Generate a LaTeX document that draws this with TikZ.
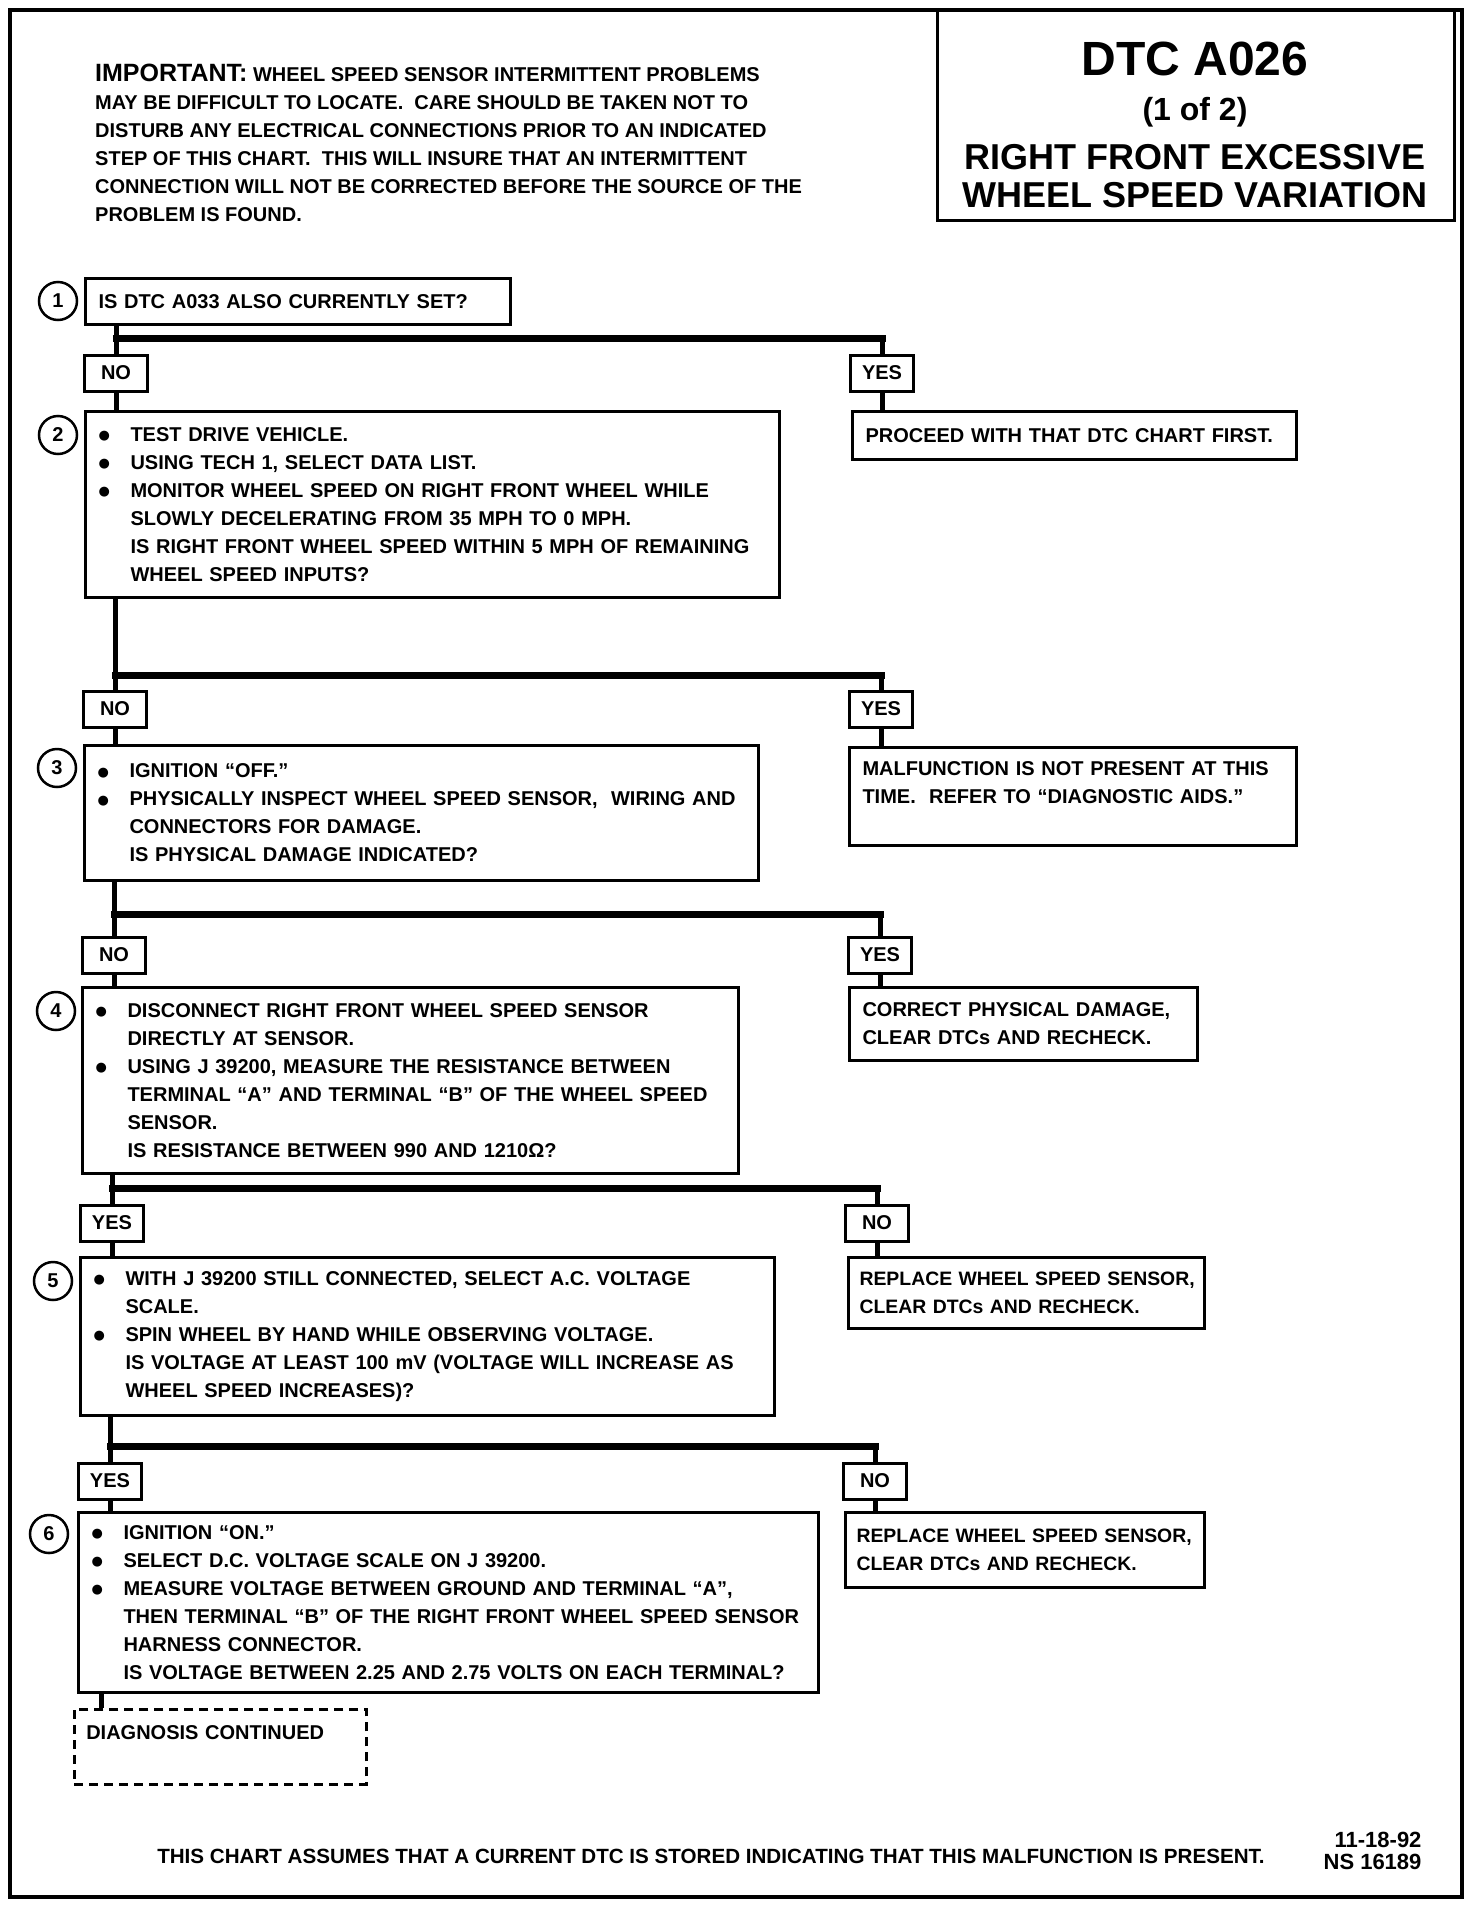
\documentclass[tikz,border=0pt]{standalone}
\usepackage{fontspec}
\setmainfont{Liberation Sans}
\newfontfamily\dotfont{DejaVu Sans}
\usetikzlibrary{positioning}

\newcommand\bul[1]{\makebox[32pt][l]{\raisebox{1.5pt}{\dotfont\fontsize{13}{13}\selectfont ●}}\mbox{#1}}
\newcommand\cont[1]{\hspace*{32pt}\mbox{#1}}

\tikzset{
  chartbox/.style={draw, line width=3pt, anchor=north west, align=left,
    inner xsep=13pt, inner ysep=0pt, font=\bfseries\fontsize{20}{28}\selectfont},
  ansbox/.style={draw, line width=3pt, minimum width=63pt, minimum height=36pt,
    inner sep=0pt, font=\bfseries\fontsize{20}{24}\selectfont},
  stepnum/.style={draw, circle, line width=2.5pt, minimum size=38pt, inner sep=0pt,
    font=\bfseries\fontsize{20}{24}\selectfont},
  trunk/.style={line width=5pt},
  barline/.style={line width=7pt, line cap=rect},
  narrowtext/.style={inner xsep=11pt, font=\bfseries\fontsize{19.4}{28}\selectfont},
}

\begin{document}
\begin{tikzpicture}[x=1pt, y=-1pt]
    \useasboundingbox (0,0) rectangle (1472,1906);
    \draw[line width=3.5pt] (10,10) rectangle (1462,1897);

    % heading
    \draw[line width=3pt] (937,10) rectangle (1454,220);
    \node[anchor=base, font=\bfseries\fontsize{48}{50}\selectfont] (t1) at (1195,75) {DTC A026};
    \node[anchor=base, font=\bfseries\fontsize{32}{34}\selectfont] (t2) at (1195,120) {(1 of 2)};
    \node[anchor=base, font=\bfseries\fontsize{36}{38}\selectfont] (t3) at (1195,169) {RIGHT FRONT EXCESSIVE};
    \node[anchor=base, font=\bfseries\fontsize{36}{38}\selectfont] (t4) at (1195,207) {WHEEL SPEED VARIATION};

    \node[anchor=north west, inner sep=0pt, align=left, font=\bfseries\fontsize{20}{28}\selectfont] (imp) at (95,64)
        {{\fontsize{25}{28}\selectfont IMPORTANT:} WHEEL SPEED SENSOR INTERMITTENT PROBLEMS\\
         MAY BE DIFFICULT TO LOCATE.\ \ CARE SHOULD BE TAKEN NOT TO\\
         DISTURB ANY ELECTRICAL CONNECTIONS PRIOR TO AN INDICATED\\
         STEP OF THIS CHART.\ \ THIS WILL INSURE THAT AN INTERMITTENT\\
         CONNECTION WILL NOT BE CORRECTED BEFORE THE SOURCE OF THE\\
         PROBLEM IS FOUND.};

    % step 1
    \node[stepnum] (c1) at (58,301) {1};
    \node[chartbox, text width=399pt, minimum height=46pt] (s1) at (84,277) {IS DTC A033 ALSO CURRENTLY SET?};
    \coordinate (b1) at (0,338);
    \node[ansbox] (n1) at (116,373) {NO};
    \node[ansbox] (y1) at (882,373) {YES};
    \draw[trunk] (s1.south -| n1) -- (n1.north);
    \draw[barline] (b1 -| n1) -- (b1 -| y1);
    \draw[trunk] (b1 -| y1) -- (y1.north);

    % step 2
    \node[stepnum] (c2) at (58,435) {2};
    \node[chartbox, text width=668pt, minimum height=186pt] (s2) at (84,410)
        {\bul{TEST DRIVE VEHICLE.}\\
         \bul{USING TECH 1, SELECT DATA LIST.}\\
         \bul{MONITOR WHEEL SPEED ON RIGHT FRONT WHEEL WHILE}\\
         \cont{SLOWLY DECELERATING FROM 35 MPH TO 0 MPH.}\\
         \cont{IS RIGHT FRONT WHEEL SPEED WITHIN 5 MPH OF REMAINING}\\
         \cont{WHEEL SPEED INPUTS?}};
    \node[chartbox, text width=418pt, minimum height=48pt] (r2) at (851,410) {\mbox{PROCEED WITH THAT DTC CHART FIRST.}};
    \draw[trunk] (n1.south) -- (s2.north -| n1);
    \draw[trunk] (y1.south) -- (r2.north -| y1);
    \coordinate (b2) at (0,675);
    \node[ansbox] (n2) at (115,709) {NO};
    \node[ansbox] (y2) at (881,709) {YES};
    \draw[trunk] (s2.south -| n2) -- (n2.north);
    \draw[barline] (b2 -| n2) -- (b2 -| y2);
    \draw[trunk] (b2 -| y2) -- (y2.north);

    % step 3
    \node[stepnum] (c3) at (57,768) {3};
    \node[chartbox, text width=648pt, minimum height=135pt] (s3) at (83,744)
        {\bul{IGNITION ``OFF.''}\\
         \bul{PHYSICALLY INSPECT WHEEL SPEED SENSOR,\ \ WIRING AND}\\
         \cont{CONNECTORS FOR DAMAGE.}\\
         \cont{IS PHYSICAL DAMAGE INDICATED?}};
    \node[chartbox, text width=421pt, minimum height=98pt] (r3) at (848,746)
        {\mbox{MALFUNCTION IS NOT PRESENT AT THIS}\\
         \mbox{TIME.\ \ REFER TO ``DIAGNOSTIC AIDS.''}\\ \mbox{}};
    \draw[trunk] (n2.south) -- (s3.north -| n2);
    \draw[trunk] (y2.south) -- (r3.north -| y2);
    \coordinate (b3) at (0,914);
    \node[ansbox] (n3) at (114,955) {NO};
    \node[ansbox] (y3) at (880,955) {YES};
    \draw[trunk] (s3.south -| n3) -- (n3.north);
    \draw[barline] (b3 -| n3) -- (b3 -| y3);
    \draw[trunk] (b3 -| y3) -- (y3.north);

    % step 4
    \node[stepnum] (c4) at (56,1011) {4};
    \node[chartbox, text width=630pt, minimum height=186pt] (s4) at (81,986)
        {\bul{DISCONNECT RIGHT FRONT WHEEL SPEED SENSOR}\\
         \cont{DIRECTLY AT SENSOR.}\\
         \bul{USING J 39200, MEASURE THE RESISTANCE BETWEEN}\\
         \cont{TERMINAL ``A'' AND TERMINAL ``B'' OF THE WHEEL SPEED}\\
         \cont{SENSOR.}\\
         \cont{IS RESISTANCE BETWEEN 990 AND 1210Ω?}};
    \node[chartbox, text width=322pt, minimum height=73pt] (r4) at (848,986)
        {\mbox{CORRECT PHYSICAL DAMAGE,}\\
         \mbox{CLEAR DTCs AND RECHECK.}};
    \draw[trunk] (n3.south) -- (s4.north -| n3);
    \draw[trunk] (y3.south) -- (r4.north -| y3);
    \coordinate (b4) at (0,1188);
    \node[ansbox] (y4) at (112,1223) {YES};
    \node[ansbox] (n4) at (877,1223) {NO};
    \draw[trunk] (s4.south -| y4) -- (y4.north);
    \draw[barline] (b4 -| y4) -- (b4 -| n4);
    \draw[trunk] (b4 -| n4) -- (n4.north);

    % step 5
    \node[stepnum] (c5) at (53,1281) {5};
    \node[chartbox, text width=668pt, minimum height=158pt] (s5) at (79,1256)
        {\bul{WITH J 39200 STILL CONNECTED, SELECT A.C. VOLTAGE}\\
         \cont{SCALE.}\\
         \bul{SPIN WHEEL BY HAND WHILE OBSERVING VOLTAGE.}\\
         \cont{IS VOLTAGE AT LEAST 100 mV (VOLTAGE WILL INCREASE AS}\\
         \cont{WHEEL SPEED INCREASES)?}};
    \node[chartbox, narrowtext, text width=334pt, minimum height=71pt] (r5) at (847,1256)
        {\mbox{REPLACE WHEEL SPEED SENSOR,}\\
         \mbox{CLEAR DTCs AND RECHECK.}};
    \draw[trunk] (y4.south) -- (s5.north -| y4);
    \draw[trunk] (n4.south) -- (r5.north -| n4);
    \coordinate (b5) at (0,1446);
    \node[ansbox] (y5) at (110,1481) {YES};
    \node[ansbox] (n5) at (875,1481) {NO};
    \draw[trunk] (s5.south -| y5) -- (y5.north);
    \draw[barline] (b5 -| y5) -- (b5 -| n5);
    \draw[trunk] (b5 -| n5) -- (n5.north);

    % step 6
    \node[stepnum] (c6) at (49,1534) {6};
    \node[chartbox, text width=714pt, minimum height=180pt] (s6) at (77,1511)
        {\bul{IGNITION ``ON.''}\\
         \bul{SELECT D.C. VOLTAGE SCALE ON J 39200.}\\
         \bul{MEASURE VOLTAGE BETWEEN GROUND AND TERMINAL ``A'',}\\
         \cont{THEN TERMINAL ``B'' OF THE RIGHT FRONT WHEEL SPEED SENSOR}\\
         \cont{HARNESS CONNECTOR.}\\
         \cont{IS VOLTAGE BETWEEN 2.25 AND 2.75 VOLTS ON EACH TERMINAL?}};
    \node[chartbox, narrowtext, text width=337pt, minimum height=75pt] (r6) at (844,1511)
        {\mbox{REPLACE WHEEL SPEED SENSOR,}\\
         \mbox{CLEAR DTCs AND RECHECK.}};
    \draw[trunk] (y5.south) -- (s6.north -| y5);
    \draw[trunk] (n5.south) -- (r6.north -| n5);

    \node[chartbox, dashed, dash pattern=on 9pt off 6pt, line width=2.5pt, inner xsep=12pt,
        text width=268pt, minimum height=75pt] (d1) at (73,1708)
        {DIAGNOSIS CONTINUED\\ \mbox{}};
    \coordinate (k6) at (101,0);
    \draw[trunk] (s6.south -| k6) -- (d1.north -| k6);

    % footer
    \node[anchor=base, font=\bfseries\fontsize{20.6}{24}\selectfont] (foot) at (711,1863)
        {THIS CHART ASSUMES THAT A CURRENT DTC IS STORED INDICATING THAT THIS MALFUNCTION IS PRESENT.};
    \node[anchor=base east, font=\bfseries\fontsize{22}{24}\selectfont] (date) at (1425,1847) {11-18-92};
    \node[anchor=base east, font=\bfseries\fontsize{22}{24}\selectfont] (ref) at (1425,1869) {NS 16189};
\end{tikzpicture}
\end{document}
